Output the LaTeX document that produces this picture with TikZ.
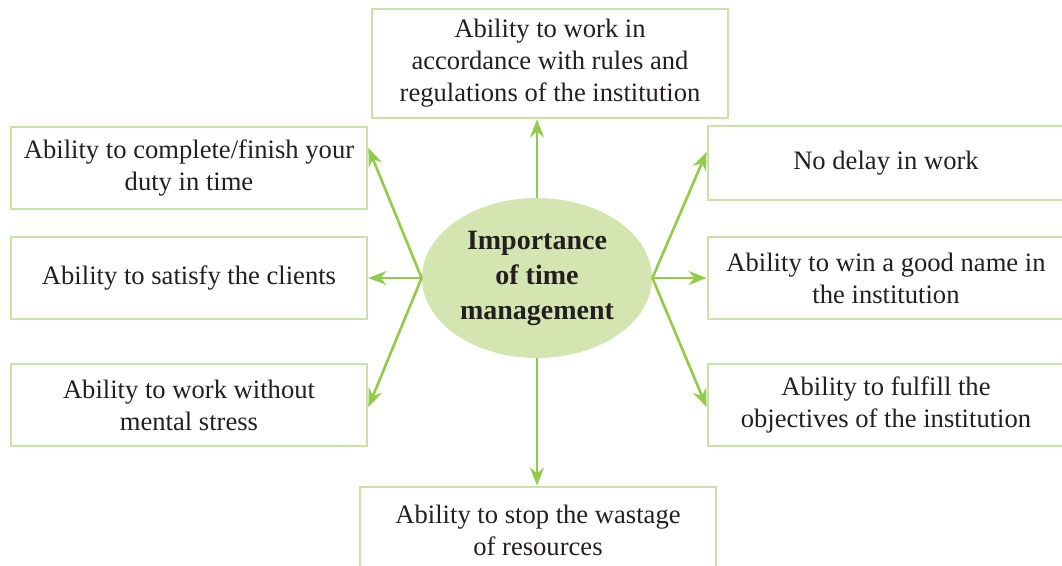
\documentclass[tikz,border=0pt]{standalone}
\usepackage{fontspec}
\setmainfont{Liberation Serif}
\usetikzlibrary{arrows.meta,shapes.geometric}

\definecolor{boxgreen}{RGB}{200,226,168}
\definecolor{arrowgreen}{RGB}{146,202,74}
\definecolor{ellgreen}{RGB}{212,229,177}
\definecolor{txtgray}{RGB}{35,31,32}

\begin{document}
\begin{tikzpicture}[x=0.5pt,y=-0.5pt,
		box/.style={draw=boxgreen, line width=1.4pt, align=center, text=txtgray,
			font=\fontsize{13.3}{16}\selectfont, inner sep=0pt, minimum width=178pt},
		link/.style={draw=arrowgreen, line width=1.3pt, -{Stealth[length=9pt,width=7pt]}}]
			\useasboundingbox (0,0) rectangle (1062,566);
			
			\node[ellipse, fill=ellgreen, inner sep=0pt, minimum width=115pt, minimum height=80pt,
				align=center, text=txtgray, font=\fontsize{14}{17.5}\selectfont\bfseries] (imp) at (537,278)
				{Importance\\of time\\management};
			
			\node[box, minimum height=54.5pt] (rules) at (550,63.5)  {Ability to work in\\accordance with rules and\\regulations of the institution};
			\node[box, minimum height=41pt]   (lb1)   at (189,168)   {Ability to complete/finish your\\duty in time};
			\node[box, minimum height=41pt]   (lb2)   at (189,278)   {Ability to satisfy the clients};
			\node[box, minimum height=41pt]   (lb3)   at (189,405)   {Ability to work without\\mental stress};
			\node[box, minimum height=37pt]   (rb1)   at (886,163)   {No delay in work};
			\node[box, minimum height=41pt]   (rb2)   at (886,278)   {Ability to win a good name in\\the institution};
			\node[box, minimum height=41pt]   (rb3)   at (886,405)   {Ability to fulfill the\\objectives of the institution};
			\node[box, minimum height=43pt]   (waste) at (538,530)   {Ability to stop the wastage\\of resources};
			
			\foreach \v/\s in {lb1/10pt, lb2/0pt, lb3/-1pt}  % arrows to the left
			{	\draw[link] (imp.west) -- ([yshift=\s]\v.east);
			}
			\foreach \v/\s in {rb1/5.5pt, rb2/0pt, rb3/-1pt}  % arrows to the right
			{	\draw[link] (imp.east) -- ([yshift=\s]\v.west);
			}
			\draw[link] (imp.north) -- (imp.north |- rules.south);
			\draw[link] (imp.south) -- (imp.south |- waste.north);
		\end{tikzpicture}
\end{document}
